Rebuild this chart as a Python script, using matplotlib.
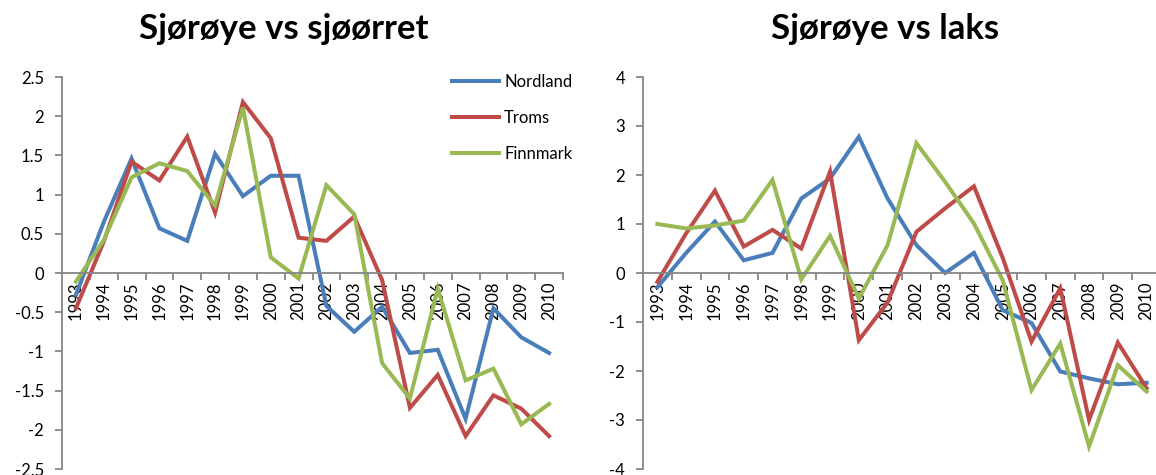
import matplotlib
matplotlib.use('Agg')
import matplotlib.pyplot as plt
from matplotlib.ticker import FixedLocator, NullFormatter, FixedFormatter

plt.rcParams['font.family'] = ['Lato', 'DejaVu Sans']

years = [str(y) for y in range(1993, 2011)]
series_names = ['Nordland', 'Troms', 'Finnmark']

# Sjørøye vs sjøørret
sjoorret_nordland = [-0.28, 0.65, 1.46, 0.57, 0.41, 1.52, 0.98, 1.24, 1.24, -0.42,
                     -0.75, -0.43, -1.02, -0.98, -1.86, -0.45, -0.82, -1.02]
sjoorret_troms = [-0.45, 0.40, 1.42, 1.18, 1.74, 0.77, 2.18, 1.72, 0.45, 0.41,
                  0.72, -0.09, -1.72, -1.30, -2.08, -1.56, -1.73, -2.08]
sjoorret_finnmark = [-0.11, 0.42, 1.22, 1.40, 1.30, 0.86, 2.11, 0.20, -0.07, 1.12,
                     0.75, -1.15, -1.60, -0.20, -1.37, -1.22, -1.93, -1.67]

# Sjørøye vs laks
laks_nordland = [-0.29, 0.41, 1.05, 0.26, 0.41, 1.52, 1.93, 2.78, 1.52, 0.57,
                 0.00, 0.41, -0.76, -1.02, -2.01, -2.15, -2.27, -2.24]
laks_troms = [-0.18, 0.81, 1.68, 0.54, 0.88, 0.50, 2.07, -1.37, -0.60, 0.84,
              1.32, 1.77, 0.31, -1.40, -0.31, -3.00, -1.42, -2.35]
laks_finnmark = [1.00, 0.91, 0.97, 1.07, 1.90, -0.13, 0.76, -0.52, 0.57, 2.65,
                 1.86, 1.01, -0.15, -2.39, -1.44, -3.54, -1.88, -2.42]

colors = ['#4A7EBB', '#BE4B48', '#98B954']
axis_grey = '#868686'

W, H = 1156, 475
fig = plt.figure(figsize=(W / 100, H / 100), dpi=100)


def make_axes(x0, x1, y0, y1):
    return fig.add_axes([x0 / W, 1 - y1 / H, (x1 - x0) / W, (y1 - y0) / H])


def style_axes(ax, ylim, yticks, yticklabels):
    n = len(years)
    ax.set_xlim(-0.5, n - 0.5)
    ax.set_ylim(*ylim)
    for s in ['top', 'right']:
        ax.spines[s].set_visible(False)
    ax.spines['left'].set_color(axis_grey)
    ax.spines['left'].set_linewidth(1.3)
    ax.spines['bottom'].set_position(('data', 0))
    ax.spines['bottom'].set_color(axis_grey)
    ax.spines['bottom'].set_linewidth(1.3)
    ax.yaxis.set_major_locator(FixedLocator(yticks))
    ax.yaxis.set_major_formatter(FixedFormatter(yticklabels))
    ax.tick_params(axis='y', direction='out', length=5, width=1.3, color=axis_grey,
                   labelsize=12, pad=8)
    # category boundaries as tick marks, labels in the middle
    ax.xaxis.set_major_locator(FixedLocator([i + 0.5 for i in range(n)]))
    ax.xaxis.set_major_formatter(NullFormatter())
    ax.xaxis.set_minor_locator(FixedLocator(list(range(n))))
    ax.xaxis.set_minor_formatter(FixedFormatter(years))
    ax.tick_params(axis='x', which='major', direction='out', length=5, width=1.3,
                   color=axis_grey)
    ax.tick_params(axis='x', which='minor', length=0, labelsize=12, pad=6,
                   labelrotation=90)
    ax.patch.set_alpha(0)


ax1 = make_axes(62, 563, 77, 469)
ax2 = make_axes(643, 1161, 77, 469)

x = list(range(len(years)))
for vals, c, name in zip([sjoorret_nordland, sjoorret_troms, sjoorret_finnmark], colors, series_names):
    ax1.plot(x, vals, color=c, lw=2.9, label=name, solid_joinstyle='miter')
for vals, c, name in zip([laks_nordland, laks_troms, laks_finnmark], colors, series_names):
    ax2.plot(x, vals, color=c, lw=2.9, label=name, solid_joinstyle='miter')

style_axes(ax1, (-2.5, 2.5), [-2.5, -2, -1.5, -1, -0.5, 0, 0.5, 1, 1.5, 2, 2.5],
           ['-2.5', '-2', '-1.5', '-1', '-0.5', '0', '0.5', '1', '1.5', '2', '2.5'])
style_axes(ax2, (-4, 4), list(range(-4, 5)), [str(v) for v in range(-4, 5)])

fig.legend(*ax1.get_legend_handles_labels(), loc='upper left',
           bbox_to_anchor=(444 / W, 1 - 66 / H), frameon=False, fontsize=12,
           handlelength=2.8, handletextpad=0.3, labelspacing=1.2, borderpad=0)

fig.text(284 / W, 1 - 29 / H, 'Sjørøye vs sjøørret', ha='center', va='center',
         fontsize=25, fontweight='bold')
fig.text(885 / W, 1 - 29 / H, 'Sjørøye vs laks', ha='center', va='center',
         fontsize=25, fontweight='bold')

fig.savefig('out.png', dpi=100)
